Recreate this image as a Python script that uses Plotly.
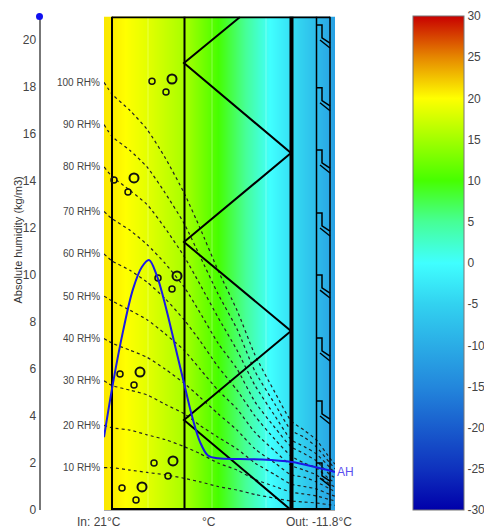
import plotly.graph_objects as go

W, H = 484, 529
# wall position (horizontal scale is pixels-like layer thickness)
temp_x = [104, 112, 125, 147, 184, 218, 245, 270, 291, 294, 316, 318, 335]
temp_c = [21, 20.8, 20, 18.5, 15.3, 10, 5, 0, -3.5, -4, -8, -8.5, -11.8]

rh_x = [104, 112, 130, 147, 165, 184, 200, 218, 237, 255, 275, 291, 304, 316, 330, 335]
rh100 = [18.2, 17.7, 17.0, 16.2, 15.0, 13.5, 12.0, 10.2, 8.5, 6.6, 5.0, 3.8, 3.4, 3.0, 2.2, 1.95]
rh90 = [16.4, 15.9, 15.3, 14.6, 13.5, 12.2, 10.8, 9.2, 7.7, 5.9, 4.5, 3.4, 3.1, 2.7, 2.0, 1.75]
rh80 = [14.6, 14.2, 13.6, 13.0, 12.0, 10.8, 9.6, 8.2, 6.8, 5.3, 4.0, 3.0, 2.7, 2.4, 1.8, 1.56]
rh70 = [12.7, 12.4, 11.9, 11.3, 10.5, 9.5, 8.4, 7.1, 6.0, 4.6, 3.5, 2.7, 2.4, 2.1, 1.5, 1.37]
rh60 = [10.9, 10.6, 10.2, 9.7, 9.0, 8.1, 7.2, 6.1, 5.1, 4.0, 3.0, 2.3, 2.0, 1.8, 1.3, 1.17]
rh50 = [9.1, 8.9, 8.5, 8.1, 7.5, 6.8, 6.0, 5.1, 4.3, 3.3, 2.5, 1.9, 1.7, 1.5, 1.1, 0.98]
rh40 = [7.3, 7.1, 6.8, 6.5, 6.0, 5.4, 4.8, 4.1, 3.4, 2.6, 2.0, 1.5, 1.4, 1.2, 0.9, 0.78]
rh30 = [5.5, 5.3, 5.1, 4.9, 4.5, 4.1, 3.6, 3.1, 2.6, 2.0, 1.5, 1.1, 1.0, 0.9, 0.66, 0.59]
rh20 = [3.6, 3.5, 3.4, 3.2, 3.0, 2.7, 2.4, 2.0, 1.7, 1.3, 1.0, 0.76, 0.68, 0.6, 0.44, 0.39]
rh10 = [1.8, 1.8, 1.7, 1.6, 1.5, 1.35, 1.2, 1.0, 0.85, 0.66, 0.5, 0.38, 0.34, 0.3, 0.22, 0.2]
rh_series = [rh100, rh90, rh80, rh70, rh60, rh50, rh40, rh30, rh20, rh10]
rh_names = ["100 RH%", "90 RH%", "80 RH%", "70 RH%", "60 RH%", "50 RH%", "40 RH%", "30 RH%", "20 RH%", "10 RH%"]

ah_x = [104, 113, 123, 133, 142, 149, 157, 166, 175, 184, 192, 200, 208, 218, 240, 262, 292, 315, 335]
ah_y = [3.1, 5.4, 7.6, 9.4, 10.35, 10.64, 9.95, 8.6, 7.0, 5.4, 4.0, 2.9, 2.32, 2.2, 2.17, 2.15, 2.04, 1.83, 1.62]

small_x = [152, 166, 114, 128, 158, 172, 120, 134, 154, 168, 122, 136]
small_y = [18.25, 17.79, 14.04, 13.53, 9.87, 9.40, 5.79, 5.32, 2.00, 1.45, 0.94, 0.43]
large_x = [172, 134, 177, 140, 173, 142]
large_y = [18.34, 14.13, 9.96, 5.87, 2.09, 0.98]

zig_x = [240, 184, 291, 184, 291, 184, 291]
zig_y = [20.98, 19.02, 15.19, 11.40, 7.62, 3.83, 0]
hook_tops = [20.64, 17.97, 15.32, 12.64, 10.0, 7.32, 4.64, 2.0]

wall_x = [112, 184.5, 291.5, 316.5, 330]
wall_w = [2, 2, 4, 1.5, 1.5]
grid_x = [148, 212, 266]

y_ticks = [0, 2, 4, 6, 8, 10, 12, 14, 16, 18, 20]
cb_ticks = [30, 25, 20, 15, 10, 5, 0, -5, -10, -15, -20, -25, -30]
colorscale = [
    [0, "rgb(0,0,170)"], [0.0833, "rgb(15,50,190)"], [0.25, "rgb(35,135,220)"],
    [0.4167, "rgb(50,210,240)"], [0.5, "rgb(64,255,255)"], [0.5833, "rgb(70,255,150)"],
    [0.6667, "rgb(70,255,0)"], [0.8333, "rgb(255,255,0)"], [0.9167, "rgb(230,135,0)"],
    [1, "rgb(200,0,0)"],
]

fig = go.Figure()
fig.add_trace(go.Heatmap(
    x=temp_x, y=[0, 21], z=[temp_c, temp_c], zmin=-30, zmax=30, zsmooth="best",
    colorscale=colorscale, hoverinfo="skip",
    colorbar=dict(x=413 / W, xanchor="left", xpad=0, thickness=51, thicknessmode="pixels",
                  y=(H - 510) / H, yanchor="bottom", ypad=0, len=493.5 / H, lenmode="fraction",
                  outlinecolor="#777", outlinewidth=1, ticks="", tickvals=cb_ticks,
                  ticktext=[str(v) for v in cb_ticks],
                  tickfont=dict(family="Liberation Sans, Arial", size=12, color="#444")),
))
for gx in grid_x:
    fig.add_trace(go.Scatter(x=[gx, gx], y=[0, 21], mode="lines",
                             line=dict(color="rgba(255,255,255,0.3)", width=1), showlegend=False))
for s in rh_series:
    fig.add_trace(go.Scatter(x=rh_x, y=s, mode="lines", showlegend=False,
                             line=dict(color="#222", width=1.2, dash="3px,3px", shape="spline", smoothing=0.6)))
for wx, ww in zip(wall_x, wall_w):
    fig.add_trace(go.Scatter(x=[wx, wx], y=[0, 21], mode="lines", showlegend=False,
                             line=dict(color="black", width=ww)))
fig.add_trace(go.Scatter(x=[112, 330, None, 112, 330], y=[0.03, 0.03, None, 20.98, 20.98], mode="lines",
                         showlegend=False, line=dict(color="black", width=2.5)))
fig.add_trace(go.Scatter(x=zig_x, y=zig_y, mode="lines", showlegend=False, line=dict(color="black", width=2)))
hx, hy = [], []
for t in hook_tops:
    hx += [316.5, 322, 322, 330, None, 320, 330, None]
    hy += [t, t, t - 0.55, t - 0.77, None, t - 0.64, t - 0.98, None]
fig.add_trace(go.Scatter(x=hx, y=hy, mode="lines", showlegend=False, line=dict(color="black", width=1.5)))
fig.add_trace(go.Scatter(x=small_x, y=small_y, mode="markers", showlegend=False,
                         marker=dict(size=6, color="rgba(0,0,0,0)", line=dict(color="#111", width=1.5))))
fig.add_trace(go.Scatter(x=large_x, y=large_y, mode="markers", showlegend=False,
                         marker=dict(size=9, color="rgba(0,0,0,0)", line=dict(color="#111", width=2))))
fig.add_trace(go.Scatter(x=ah_x, y=ah_y, mode="lines", showlegend=False,
                         line=dict(color="#1a1ae6", width=2, shape="spline", smoothing=1.0)))

def py(v):
    return (H - 510 + v * 23.5) / H

annots = []
for name, s in zip(rh_names, rh_series):
    annots.append(dict(x=102 / W, y=py(s[0]), xref="paper", yref="paper", text=name, showarrow=False,
                       xanchor="right", yanchor="middle",
                       font=dict(family="Liberation Sans, Arial", size=10, color="#444")))
for txt, px in [("In: 21°C", 99), ("°C", 209), ("Out: -11.8°C", 319)]:
    annots.append(dict(x=px / W, y=(H - 522) / H, xref="paper", yref="paper", text=txt, showarrow=False,
                       xanchor="center", yanchor="middle",
                       font=dict(family="Liberation Sans, Arial", size=12, color="#444")))
annots.append(dict(x=335 / W, y=py(ah_y[-1] - 0.02), xref="paper", yref="paper", text="AH", showarrow=False,
                   xanchor="left", yanchor="middle",
                   font=dict(family="Liberation Sans, Arial", size=12, color="#5a50f0")))
annots.append(dict(x=17 / W, y=(H - 240.5) / H, xref="paper", yref="paper", text="Absolute humidity (kg/m3)",
                   showarrow=False, textangle=-90, xanchor="center", yanchor="middle",
                   font=dict(family="Liberation Sans, Arial", size=11, color="#333")))

fig.update_layout(
    width=W, height=H, margin=dict(l=0, r=0, t=0, b=0, autoexpand=False), paper_bgcolor="white", plot_bgcolor="white",
    showlegend=False, annotations=annots,
    xaxis=dict(range=[104, 335], domain=[104 / W, 335 / W], showgrid=False, zeroline=False,
               showticklabels=False, ticks="", showline=True, linecolor="#aaa", linewidth=1),
    yaxis=dict(range=[0, 21], domain=[(H - 510) / H, (H - 16.5) / H], anchor="free", position=39.5 / W,
               showgrid=False, zeroline=False, tickvals=y_ticks, ticks="", showline=True,
               linecolor="#777", linewidth=2,
               tickfont=dict(family="Liberation Sans, Arial", size=12, color="#444")),
    shapes=[dict(type="circle", xref="paper", yref="paper", layer="above",
                 x0=36 / W, x1=43 / W, y0=(H - 20) / H, y1=(H - 13) / H,
                 fillcolor="#1010f0", line=dict(width=0))],
)
fig.write_html("out.html", post_script="document.body.style.margin='0';", config={"displayModeBar": False})
